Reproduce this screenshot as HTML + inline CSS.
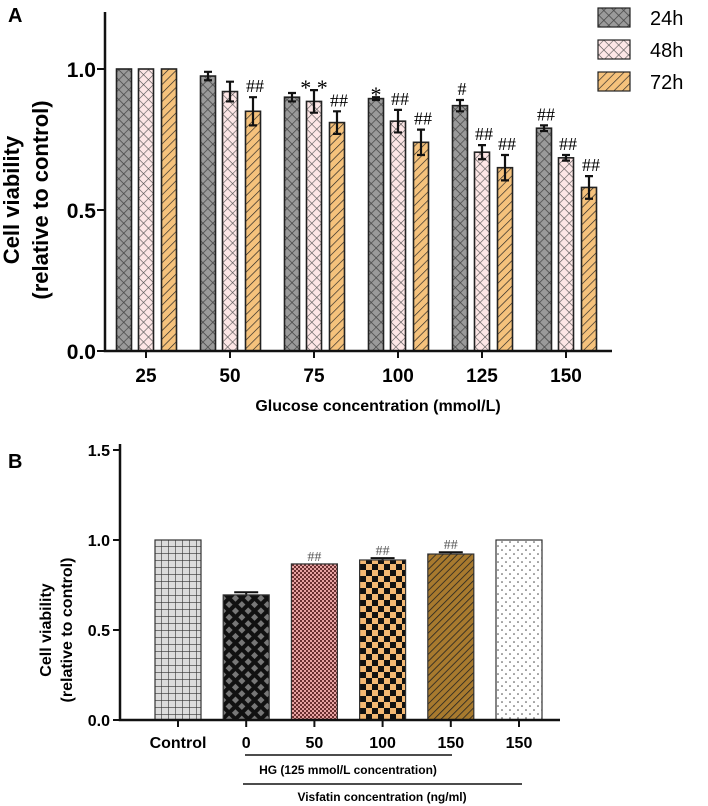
<!DOCTYPE html>
<html><head><meta charset="utf-8"><style>
body{margin:0;background:#fff}
svg{display:block;font-family:"Liberation Sans",Arial,sans-serif}
</style></head><body>
<svg id="c" width="708" height="806" viewBox="0 0 708 806">
<defs>
<pattern id="p24" width="7" height="7" patternUnits="userSpaceOnUse" patternTransform="rotate(45)"><rect width="7" height="7" fill="#9a9a9a"/><path d="M0 0H7M0 0V7" stroke="#444" stroke-width="1.4"/></pattern>
<pattern id="p48" width="7" height="7" patternUnits="userSpaceOnUse" patternTransform="rotate(45)"><rect width="7" height="7" fill="#fde6e6"/><path d="M0 0H7M0 0V7" stroke="#555" stroke-width="1.2"/></pattern>
<pattern id="p72" width="6" height="6" patternUnits="userSpaceOnUse" patternTransform="rotate(45)"><rect width="6" height="6" fill="#f5c27c"/><path d="M0 0V6" stroke="#222" stroke-width="1.3"/></pattern>
<pattern id="bc" width="7" height="7" patternUnits="userSpaceOnUse"><rect width="7" height="7" fill="#dcdcdc"/><path d="M0 0H7M0 0V7" stroke="#333" stroke-width="1.2"/></pattern>
<pattern id="b0" width="9" height="9" patternUnits="userSpaceOnUse" patternTransform="rotate(45)"><rect width="9" height="9" fill="#111"/><rect x="2" y="2" width="5" height="5" fill="#777"/></pattern>
<pattern id="b50" width="4" height="4" patternUnits="userSpaceOnUse"><rect width="4" height="4" fill="#e8a3a3"/><rect width="2" height="2" fill="#6a3030"/><rect x="2" y="2" width="2" height="2" fill="#6a3030"/></pattern>
<pattern id="b100" width="12" height="12" patternUnits="userSpaceOnUse"><rect width="12" height="12" fill="#f3b873"/><rect width="6" height="6" fill="#111"/><rect x="6" y="6" width="6" height="6" fill="#111"/></pattern>
<pattern id="b150" width="5" height="5" patternUnits="userSpaceOnUse" patternTransform="rotate(45)"><rect width="5" height="5" fill="#a87a2e"/><path d="M0 0V5" stroke="#222" stroke-width="1.6"/></pattern>
<pattern id="bv" width="8" height="8" patternUnits="userSpaceOnUse"><rect width="8" height="8" fill="#fff"/><circle cx="2" cy="2" r="0.8" fill="#444"/><circle cx="6" cy="6" r="0.8" fill="#444"/></pattern>
</defs>
<g id="A"></g>
<g id="B"></g>
</svg>
<script>
const groupsA = ["25","50","75","100","125","150"];
const seriesNames = ["24h","48h","72h"];
const v24 = [1.0,0.975,0.90,0.895,0.87,0.79];
const v48 = [1.0,0.92,0.885,0.815,0.705,0.685];
const v72 = [1.0,0.85,0.81,0.74,0.65,0.58];
const e24 = [0,0.015,0.015,0.005,0.02,0.01];
const e48 = [0,0.035,0.04,0.04,0.025,0.01];
const e72 = [0,0.05,0.04,0.045,0.045,0.04];
const sig24 = ["","","","*","#","##"];
const sig48 = ["","","**","##","##","##"];
const sig72 = ["","##","##","##","##","##"];
const ticksA = [0,0.5,1.0];
const catsB = ["Control","0","50","100","150","150"];
const valsB = [1.0,0.695,0.867,0.889,0.922,1.0];
const errsB = [0,0.015,0,0.01,0.01,0];
const sigB = ["","","##","##","##",""];
const ticksB = [0,0.5,1.0,1.5];

const NS="http://www.w3.org/2000/svg";
function mk(p,t,a,txt){const e=document.createElementNS(NS,t);for(const k in a)e.setAttribute(k,a[k]);if(txt!=null)e.textContent=txt;p.appendChild(e);return e;}

// Panel A
const A=document.getElementById('A');
const yA=v=>351-v*282, xA=i=>146+i*84;
const off=[-22,0,23], pats=["url(#p24)","url(#p48)","url(#p72)"];
const vals=[v24,v48,v72], errs=[e24,e48,e72], sigs=[sig24,sig48,sig72];
let t=mk(A,'text',{x:8,y:22,'font-size':20,'font-weight':'bold'},'A');

groupsA.forEach((g,i)=>{
  for(let s=0;s<3;s++){
    const cx=xA(i)+off[s], v=vals[s][i], e=errs[s][i];
    const r=mk(A,'rect',{x:cx-7.5,y:yA(v),width:15,height:yA(0)-yA(v),fill:pats[s],stroke:'#222','stroke-width':1.6});
    
    if(e>0){
      const eb=mk(A,'path',{d:`M${cx} ${yA(v+e)}V${yA(v-e)}M${cx-4} ${yA(v+e)}H${cx+4}M${cx-4} ${yA(v-e)}H${cx+4}`,stroke:'#111','stroke-width':2.2,fill:'none'});
      
    }
    const sg=sigs[s][i];
    if(sg){
      const star=sg[0]=='*';
      const st=mk(A,'text',{x:cx+(star?0:2),y:star?yA(v+e)+5:yA(v+e)-5,'text-anchor':'middle','font-size':star?22:18,'font-family':'"Liberation Serif",serif'},star?sg.split('').join(' '):sg);
      
    }
  }
  mk(A,'line',{x1:xA(i),x2:xA(i),y1:351,y2:358,stroke:'#111','stroke-width':2});
  const l=mk(A,'text',{x:xA(i),y:382,'text-anchor':'middle','font-size':19,'font-weight':'bold'},g);
  
});
let ax=mk(A,'path',{d:'M105 12V351H612',stroke:'#111','stroke-width':2.5,fill:'none'});

ticksA.forEach(v=>{
  mk(A,'line',{x1:97,x2:105,y1:yA(v),y2:yA(v),stroke:'#111','stroke-width':2});
  const l=mk(A,'text',{x:96,y:yA(v)+8,'text-anchor':'end','font-size':21,'font-weight':'bold'},v.toFixed(1));
  
});
t=mk(A,'text',{x:0,y:0,'text-anchor':'middle','font-size':22,'font-weight':'bold',transform:'translate(19,200) rotate(-90)'},'Cell viability');

t=mk(A,'text',{x:0,y:0,'text-anchor':'middle','font-size':22,'font-weight':'bold',transform:'translate(48,200) rotate(-90)'},'(relative to control)');

t=mk(A,'text',{x:378,y:411,'text-anchor':'middle','font-size':16,'font-weight':'bold'},'Glucose concentration (mmol/L)');

seriesNames.forEach((n,s)=>{
  const y=8+s*32;
  const r=mk(A,'rect',{x:598,y:y,width:32,height:19,fill:pats[s],stroke:'#222','stroke-width':1.2});
  
  const l=mk(A,'text',{x:650,y:y+17,'font-size':20},n);
  
});

// Panel B
const B=document.getElementById('B');
const yB=v=>720-v*180, xB=i=>178+i*68.2;
const bp=["url(#bc)","url(#b0)","url(#b50)","url(#b100)","url(#b150)","url(#bv)"];
t=mk(B,'text',{x:8,y:468,'font-size':20,'font-weight':'bold'},'B');

catsB.forEach((c,i)=>{
  const cx=xB(i), v=valsB[i], e=errsB[i];
  if(e>0){mk(B,'path',{d:`M${cx} ${yB(v)}V${yB(v+e)}M${cx-12} ${yB(v+e)}H${cx+12}`,stroke:'#111','stroke-width':2,fill:'none'});}
  const r=mk(B,'rect',{x:cx-23,y:yB(v),width:46,height:yB(0)-yB(v),fill:bp[i],stroke:'#333','stroke-width':1.2});
  
  if(sigB[i]){const s=mk(B,'text',{x:cx,y:yB(v+e)-3,'text-anchor':'middle','font-size':14,fill:'#555','font-family':'"Liberation Serif",serif'},sigB[i]);
    }
  mk(B,'line',{x1:cx,x2:cx,y1:720,y2:727,stroke:'#111','stroke-width':2});
  const l=mk(B,'text',{x:cx,y:748,'text-anchor':'middle','font-size':16,'font-weight':'bold'},c);
  
});
ax=mk(B,'path',{d:'M120 444V720H560',stroke:'#111','stroke-width':2.5,fill:'none'});

ticksB.forEach(v=>{
  mk(B,'line',{x1:113,x2:120,y1:yB(v),y2:yB(v),stroke:'#111','stroke-width':2});
  const l=mk(B,'text',{x:110,y:yB(v)+6,'text-anchor':'end','font-size':16,'font-weight':'bold'},v.toFixed(1));
  
});
t=mk(B,'text',{x:0,y:0,'text-anchor':'middle','font-size':16,'font-weight':'bold',transform:'translate(51,630) rotate(-90)'},'Cell viability');

t=mk(B,'text',{x:0,y:0,'text-anchor':'middle','font-size':16,'font-weight':'bold',transform:'translate(72,630) rotate(-90)'},'(relative to control)');

mk(B,'line',{x1:245,x2:452,y1:755,y2:755,stroke:'#111','stroke-width':1.5});
t=mk(B,'text',{x:348,y:774,'text-anchor':'middle','font-size':12,'font-weight':'bold'},'HG (125 mmol/L concentration)');

mk(B,'line',{x1:243,x2:522,y1:784,y2:784,stroke:'#111','stroke-width':1.5});
t=mk(B,'text',{x:382,y:801,'text-anchor':'middle','font-size':12,'font-weight':'bold'},'Visfatin concentration (ng/ml)');

</script>
</body></html>
